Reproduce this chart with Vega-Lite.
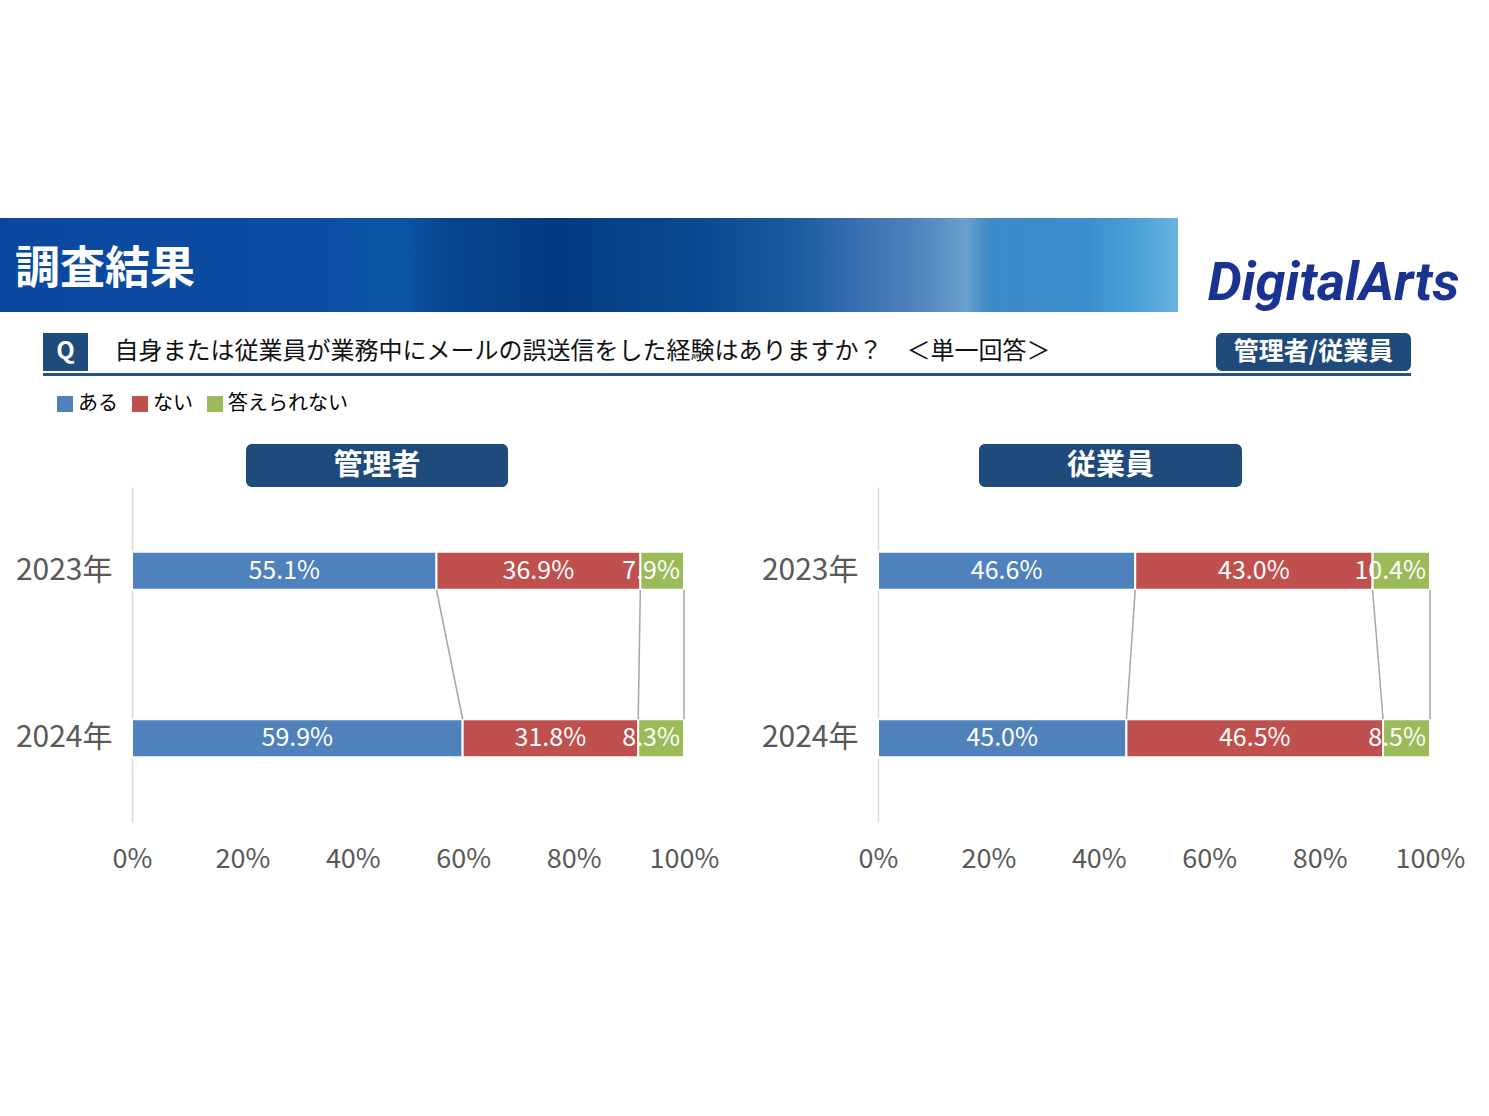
{
  "$schema": "https://vega.github.io/schema/vega-lite/v6.json",
  "background": "white",
  "padding": {"left": 0, "top": 218, "right": 20, "bottom": 240},
  "config": {"view": {"stroke": null}, "font": "Noto Sans CJK JP", "axis": {"grid": false}},
  "datasets": {
    "main": [
      {"panel": "管理者", "year": "2023年", "answer": "ある", "value": 0.551},
      {"panel": "管理者", "year": "2023年", "answer": "ない", "value": 0.369},
      {"panel": "管理者", "year": "2023年", "answer": "答えられない", "value": 0.079},
      {"panel": "管理者", "year": "2024年", "answer": "ある", "value": 0.599},
      {"panel": "管理者", "year": "2024年", "answer": "ない", "value": 0.318},
      {"panel": "管理者", "year": "2024年", "answer": "答えられない", "value": 0.083},
      {"panel": "従業員", "year": "2023年", "answer": "ある", "value": 0.466},
      {"panel": "従業員", "year": "2023年", "answer": "ない", "value": 0.430},
      {"panel": "従業員", "year": "2023年", "answer": "答えられない", "value": 0.104},
      {"panel": "従業員", "year": "2024年", "answer": "ある", "value": 0.450},
      {"panel": "従業員", "year": "2024年", "answer": "ない", "value": 0.465},
      {"panel": "従業員", "year": "2024年", "answer": "答えられない", "value": 0.085}
    ]
  },
  "spacing": 21,
  "vconcat": [
    {
      "spacing": 0,
      "hconcat": [
        {
          "width": 1178,
          "height": 94,
          "data": {"values": [{"label": "調査結果"}]},
          "layer": [
            {
              "mark": {
                "type": "rect",
                "fill": {
                  "gradient": "linear", "x1": 0, "y1": 0, "x2": 1, "y2": 0,
                  "stops": [
                    {"offset": 0, "color": "#0a48a0"},
                    {"offset": 0.25, "color": "#0b4da3"},
                    {"offset": 0.34, "color": "#0c55a6"},
                    {"offset": 0.38, "color": "#07458f"},
                    {"offset": 0.47, "color": "#033a80"},
                    {"offset": 0.6, "color": "#0a4a92"},
                    {"offset": 0.68, "color": "#1a5e9f"},
                    {"offset": 0.73, "color": "#3a6fb0"},
                    {"offset": 0.78, "color": "#5284bd"},
                    {"offset": 0.82, "color": "#6aa0cc"},
                    {"offset": 0.84, "color": "#3d8ac8"},
                    {"offset": 0.92, "color": "#3a8dcc"},
                    {"offset": 0.97, "color": "#4ea3d8"},
                    {"offset": 1, "color": "#6ab3e0"}
                  ]
                }
              },
              "encoding": {}
            },
            {
              "mark": {"type": "text", "align": "left", "dx": -574, "dy": 5, "fontSize": 45, "fontWeight": "bold", "color": "white"},
              "encoding": {"text": {"field": "label"}}
            }
          ]
        },
        {
          "width": 311,
          "height": 94,
          "data": {"values": [{"name": "DigitalArts"}]},
          "mark": {"type": "text", "font": "Roboto", "fontStyle": "italic", "fontWeight": "bold", "fontSize": 54, "color": "#1a3290", "baseline": "alphabetic", "dy": 35},
          "encoding": {"text": {"field": "name"}}
        }
      ]
    },
    {
      "spacing": 0,
      "hconcat": [
        {
          "width": 43, "height": 1,
          "data": {"values": []},
          "mark": {"type": "text"},
          "encoding": {"text": {"value": ""}}
        },
        {
          "spacing": 2,
          "vconcat": [
            {
              "spacing": 161,
              "hconcat": [
                {
                  "spacing": 22,
                  "hconcat": [
                    {
                      "width": 45, "height": 38,
                      "view": {"fill": "#1f4a7c", "stroke": null},
                      "data": {"values": [{"label": "Q"}]},
                      "mark": {"type": "text", "color": "white", "fontSize": 24, "fontWeight": "bold"},
                      "encoding": {"text": {"field": "label"}}
                    },
                    {
                      "width": 945, "height": 38,
                      "data": {"values": [{"label": "自身または従業員が業務中にメールの誤送信をした経験はありますか？　＜単一回答＞"}]},
                      "mark": {"type": "text", "color": "#111111", "fontSize": 24},
                      "encoding": {"text": {"field": "label"}}
                    }
                  ]
                },
                {
                  "width": 195, "height": 38,
                  "view": {"fill": "#1f4a7c", "stroke": null, "cornerRadius": 6},
                  "data": {"values": [{"label": "管理者/従業員"}]},
                  "mark": {"type": "text", "color": "white", "fontSize": 25, "fontWeight": "bold"},
                  "encoding": {"text": {"field": "label"}}
                }
              ]
            },
            {
              "width": 1368, "height": 3,
              "data": {"values": [{}]},
              "mark": {"type": "rect", "color": "#2a4f8c"},
              "encoding": {}
            }
          ]
        }
      ]
    },
    {
      "width": 10, "height": 26,
      "data": {"values": []},
      "mark": {"type": "text"},
      "encoding": {"text": {"value": ""}}
    },
    {
      "spacing": 0,
      "hconcat": [
        {
          "width": 15, "height": 1,
          "data": {"values": []},
          "mark": {"type": "text"},
          "encoding": {"text": {"value": ""}}
        },
        {
          "spacing": 42,
          "hconcat": [
            {
              "spacing": 0,
              "vconcat": [
                {
                  "spacing": 0,
                  "hconcat": [
                    {
                      "width": 114, "height": 43,
                      "data": {"values": []},
                      "mark": {"type": "text"},
                      "encoding": {"text": {"value": ""}}
                    },
                    {
                      "width": 262, "height": 43,
                      "view": {"fill": "#1f4a7c", "stroke": null, "cornerRadius": 6},
                      "data": {"values": [{"label": "管理者"}]},
                      "mark": {"type": "text", "color": "white", "fontSize": 29, "fontWeight": "bold"},
                      "encoding": {"text": {"field": "label"}}
                    }
                  ]
                },
                {
                  "width": 552,
                  "height": 335,
                  "data": {"name": "main"},
                  "transform": [{"filter": "datum.panel === '管理者'"}],
                  "layer": [
                    {
                      "mark": {"type": "bar", "stroke": "white", "strokeWidth": 2},
                      "encoding": {
                        "y": {
                          "field": "year", "type": "nominal", "title": null,
                          "scale": {"paddingInner": 0.773, "paddingOuter": 0.3865},
                          "axis": {"labelFontSize": 30, "labelColor": "#595959", "domainColor": "#d9d9d9", "domainWidth": 1.5, "ticks": false, "labelPadding": 20}
                        },
                        "x": {
                          "field": "value", "type": "quantitative", "stack": "normalize", "title": null,
                          "scale": {"domain": [0, 1], "nice": false},
                          "axis": {"values": [0, 0.2, 0.4, 0.6, 0.8, 1], "format": ".0%", "domain": false, "ticks": false, "labelFlush": false, "labelFontSize": 27, "labelColor": "#595959", "labelPadding": 24}
                        },
                        "color": {
                          "field": "answer", "type": "nominal",
                          "scale": {"domain": ["ある", "ない", "答えられない"], "range": ["#4f81bd", "#c0504d", "#9bbb59"]},
                          "legend": {"orient": "none", "legendX": 55, "legendY": 176, "direction": "horizontal", "title": null, "symbolType": "square", "symbolSize": 256, "symbolStrokeWidth": 0, "labelFontSize": 20, "labelColor": "#000000", "columnPadding": 12, "labelOffset": 3}
                        },
                        "order": {"field": "answer", "sort": "ascending"}
                      }
                    },
                    {
                      "mark": {"type": "text", "color": "white", "fontSize": 25},
                      "encoding": {
                        "y": {"field": "year", "type": "nominal", "title": null},
                        "x": {"field": "value", "type": "quantitative", "stack": "normalize", "bandPosition": 0.5, "title": null},
                        "detail": {"field": "answer", "type": "nominal"},
                        "order": {"field": "answer", "sort": "ascending"},
                        "text": {"condition": {"test": "datum.answer === '答えられない'", "value": ""}, "field": "value", "type": "quantitative", "format": ".1%"}
                      }
                    },
                    {
                      "transform": [
                        {"stack": "value", "groupby": ["year"], "sort": [{"field": "answer", "order": "ascending"}], "offset": "normalize", "as": ["s0", "s1"]},
                        {"filter": "datum.answer === '答えられない'"}
                      ],
                      "mark": {"type": "text", "color": "white", "fontSize": 25, "align": "right", "dx": -4},
                      "encoding": {
                        "y": {"field": "year", "type": "nominal", "title": null},
                        "x": {"field": "s1", "type": "quantitative", "title": null},
                        "text": {"field": "value", "type": "quantitative", "format": ".1%"}
                      }
                    },
                    {
                      "transform": [
                        {"stack": "value", "groupby": ["year"], "sort": [{"field": "answer", "order": "ascending"}], "offset": "normalize", "as": ["s0", "s1"]},
                        {"pivot": "year", "value": "s1", "groupby": ["answer"]}
                      ],
                      "mark": {"type": "rule", "color": "#a6a6a6", "strokeWidth": 1.5},
                      "encoding": {
                        "x": {"field": "2023年", "type": "quantitative", "title": null},
                        "x2": {"field": "2024年"},
                        "y": {"datum": "2023年", "type": "nominal", "bandPosition": 1, "title": null},
                        "y2": {"datum": "2024年", "bandPosition": 0}
                      }
                    }
                  ]
                }
              ]
            },
            {
              "spacing": 0,
              "vconcat": [
                {
                  "spacing": 0,
                  "hconcat": [
                    {
                      "width": 101, "height": 43,
                      "data": {"values": []},
                      "mark": {"type": "text"},
                      "encoding": {"text": {"value": ""}}
                    },
                    {
                      "width": 263, "height": 43,
                      "view": {"fill": "#1f4a7c", "stroke": null, "cornerRadius": 6},
                      "data": {"values": [{"label": "従業員"}]},
                      "mark": {"type": "text", "color": "white", "fontSize": 29, "fontWeight": "bold"},
                      "encoding": {"text": {"field": "label"}}
                    }
                  ]
                },
                {
                  "width": 552,
                  "height": 335,
                  "data": {"name": "main"},
                  "transform": [{"filter": "datum.panel === '従業員'"}],
                  "layer": [
                    {
                      "mark": {"type": "bar", "stroke": "white", "strokeWidth": 2},
                      "encoding": {
                        "y": {
                          "field": "year", "type": "nominal", "title": null,
                          "scale": {"paddingInner": 0.773, "paddingOuter": 0.3865},
                          "axis": {"labelFontSize": 30, "labelColor": "#595959", "domainColor": "#d9d9d9", "domainWidth": 1.5, "ticks": false, "labelPadding": 20}
                        },
                        "x": {
                          "field": "value", "type": "quantitative", "stack": "normalize", "title": null,
                          "scale": {"domain": [0, 1], "nice": false},
                          "axis": {"values": [0, 0.2, 0.4, 0.6, 0.8, 1], "format": ".0%", "domain": false, "ticks": false, "labelFlush": false, "labelFontSize": 27, "labelColor": "#595959", "labelPadding": 24}
                        },
                        "color": {
                          "field": "answer", "type": "nominal",
                          "scale": {"domain": ["ある", "ない", "答えられない"], "range": ["#4f81bd", "#c0504d", "#9bbb59"]},
                          "legend": {"orient": "none", "legendX": 55, "legendY": 176, "direction": "horizontal", "title": null, "symbolType": "square", "symbolSize": 256, "symbolStrokeWidth": 0, "labelFontSize": 20, "labelColor": "#000000", "columnPadding": 12, "labelOffset": 3}
                        },
                        "order": {"field": "answer", "sort": "ascending"}
                      }
                    },
                    {
                      "mark": {"type": "text", "color": "white", "fontSize": 25},
                      "encoding": {
                        "y": {"field": "year", "type": "nominal", "title": null},
                        "x": {"field": "value", "type": "quantitative", "stack": "normalize", "bandPosition": 0.5, "title": null},
                        "detail": {"field": "answer", "type": "nominal"},
                        "order": {"field": "answer", "sort": "ascending"},
                        "text": {"condition": {"test": "datum.answer === '答えられない'", "value": ""}, "field": "value", "type": "quantitative", "format": ".1%"}
                      }
                    },
                    {
                      "transform": [
                        {"stack": "value", "groupby": ["year"], "sort": [{"field": "answer", "order": "ascending"}], "offset": "normalize", "as": ["s0", "s1"]},
                        {"filter": "datum.answer === '答えられない'"}
                      ],
                      "mark": {"type": "text", "color": "white", "fontSize": 25, "align": "right", "dx": -4},
                      "encoding": {
                        "y": {"field": "year", "type": "nominal", "title": null},
                        "x": {"field": "s1", "type": "quantitative", "title": null},
                        "text": {"field": "value", "type": "quantitative", "format": ".1%"}
                      }
                    },
                    {
                      "transform": [
                        {"stack": "value", "groupby": ["year"], "sort": [{"field": "answer", "order": "ascending"}], "offset": "normalize", "as": ["s0", "s1"]},
                        {"pivot": "year", "value": "s1", "groupby": ["answer"]}
                      ],
                      "mark": {"type": "rule", "color": "#a6a6a6", "strokeWidth": 1.5},
                      "encoding": {
                        "x": {"field": "2023年", "type": "quantitative", "title": null},
                        "x2": {"field": "2024年"},
                        "y": {"datum": "2023年", "type": "nominal", "bandPosition": 1, "title": null},
                        "y2": {"datum": "2024年", "bandPosition": 0}
                      }
                    }
                  ]
                }
              ]
            }
          ]
        }
      ]
    }
  ]
}
